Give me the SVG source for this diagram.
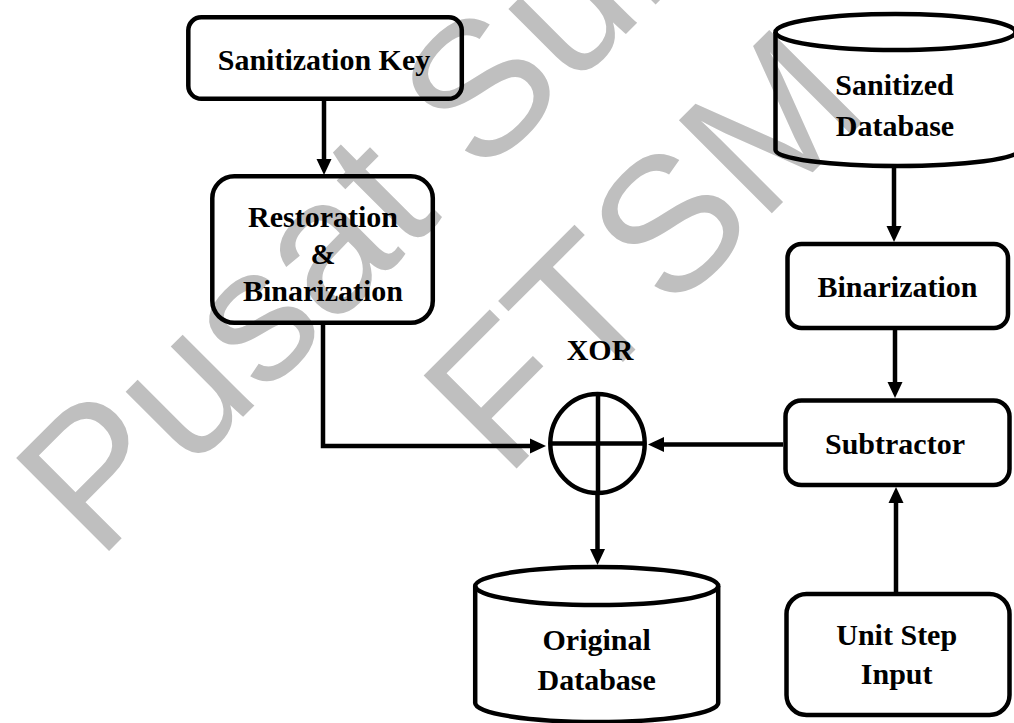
<svg xmlns="http://www.w3.org/2000/svg" width="1014" height="723" viewBox="0 0 1014 723">
<style>
.wm{font-family:"Liberation Sans",Arial,sans-serif;font-size:191px;fill:#bfbfbf}
.box{fill:none;stroke:#000;stroke-width:4.5}
.lbl{font-family:"Liberation Serif","Times New Roman",serif;font-weight:bold;font-size:30px;fill:#000;text-anchor:middle}
.conn{fill:none;stroke:#000;stroke-width:4.5;marker-end:url(#ah)}
</style>
<defs>
<marker id="ah" markerUnits="userSpaceOnUse" markerWidth="16" markerHeight="16" refX="10" refY="8" orient="auto">
<path d="M0,0.5 L16,8 L0,15.5 z" fill="#000"/>
</marker>
</defs>
<rect width="1014" height="723" fill="#fff"/>
<g id="watermark" transform="rotate(-45)">
<text class="wm" x="-328" y="466.7">Pusat Sumber</text>
<text class="wm" x="18.5" y="696.5">FTSM</text>
</g>
<g id="connectors">
<path class="conn" d="M324,101 V169"/>
<path class="conn" d="M894,167 V236"/>
<path class="conn" d="M895,330 V392"/>
<path class="conn" d="M896,592 V493"/>
<path class="conn" d="M783,444.5 H654"/>
<path class="conn" d="M323,325 V446 H540"/>
<path class="conn" d="M597.5,494 V559"/>
</g>
<g id="sanitization-key">
<rect class="box" x="188.3" y="17.3" width="273.5" height="81.5" rx="13"/>
<text class="lbl" x="324" y="69.5">Sanitization Key</text>
</g>
<g id="restoration-binarization">
<rect class="box" x="212.3" y="176.3" width="220.5" height="146.5" rx="22"/>
<text class="lbl" x="323" y="226.7">Restoration</text>
<text class="lbl" x="323" y="264">&amp;</text>
<text class="lbl" x="323" y="301">Binarization</text>
</g>
<g id="sanitized-database">
<ellipse class="box" cx="895.5" cy="32" rx="120" ry="18"/>
<path class="box" d="M775.5,32 V150 A122,16 0 0 0 1019.5,150 V32"/>
<text class="lbl" x="894.5" y="95">Sanitized</text>
<text class="lbl" x="895" y="136">Database</text>
</g>
<g id="binarization">
<rect class="box" x="787.5" y="244" width="220.5" height="84" rx="14"/>
<text class="lbl" x="897.5" y="296.7">Binarization</text>
</g>
<g id="xor">
<text class="lbl" x="600" y="360">XOR</text>
<ellipse class="box" cx="597.5" cy="443.5" rx="47.2" ry="49.5"/>
<path class="box" d="M598,394 V493 M550.3,443.5 H644.7"/>
</g>
<g id="subtractor">
<rect class="box" x="785.5" y="400.5" width="224" height="84.5" rx="16"/>
<text class="lbl" x="895" y="454">Subtractor</text>
</g>
<g id="unit-step-input">
<rect class="box" x="786.5" y="594" width="223" height="121" rx="20"/>
<text class="lbl" x="896.7" y="645">Unit Step</text>
<text class="lbl" x="896.7" y="684">Input</text>
</g>
<g id="original-database">
<ellipse class="box" cx="596.7" cy="586" rx="121.5" ry="19"/>
<path class="box" d="M475.2,586 V703 A121.5,19 0 0 0 718.2,703 V586"/>
<text class="lbl" x="596.7" y="650">Original</text>
<text class="lbl" x="596.7" y="690">Database</text>
</g>
</svg>
